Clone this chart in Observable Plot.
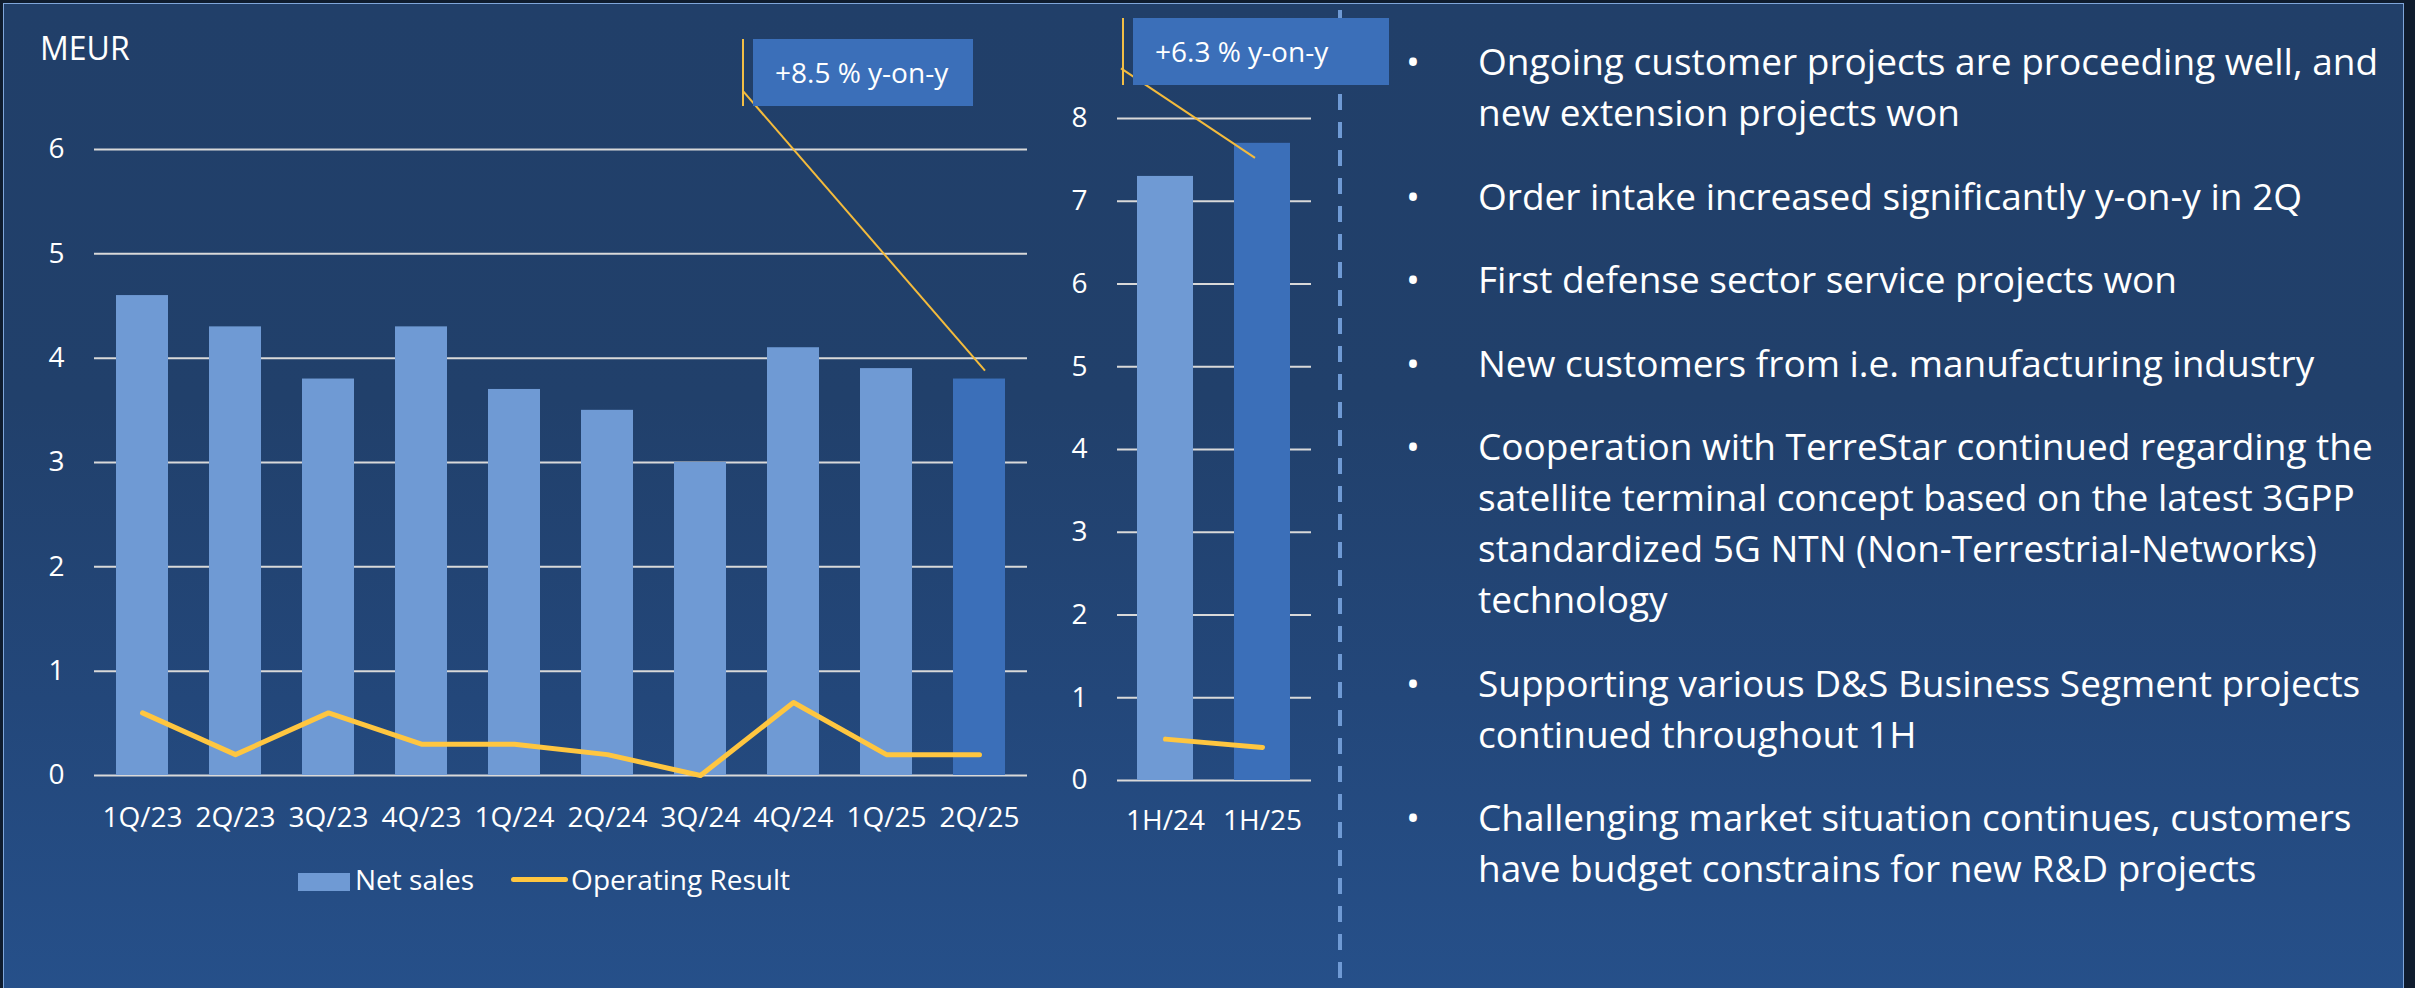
<!DOCTYPE html>
<html><head><meta charset="utf-8">
<script src="https://cdn.jsdelivr.net/npm/d3@7"></script>
<script src="https://cdn.jsdelivr.net/npm/@observablehq/plot@0.6"></script>
<style>
html,body{margin:0;padding:0;width:2415px;height:988px;overflow:hidden;background:#0f1c2e;font-family:"Open Sans",sans-serif;color:#fff;}
#panel{position:absolute;left:3px;top:3px;width:2401px;height:992px;border:1.5px solid #7fa6da;border-bottom:none;box-sizing:border-box;
background:linear-gradient(180deg,#213f69 0%,#21406b 40%,#23477a 70%,#26508a 100%);}
.abs{position:absolute;}
.meur{left:40px;top:26px;font-size:32px;line-height:44px;}
.box{background:#3b6fb9;height:67px;line-height:67px;font-size:28px;padding-left:22px;box-sizing:border-box;white-space:nowrap;}
.vbar{width:2.5px;background:#f2be45;}
.legend{font-size:28px;line-height:40px;white-space:nowrap;}
#bullets{left:1406px;top:35px;font-size:37px;line-height:51px;}
#bullets .p{display:flex;margin-bottom:32.5px;white-space:nowrap;}
#bullets .b{width:72px;flex:none;}
</style></head><body>
<div id="panel"></div>
<div id="root"></div>
<script>
// ---- data ----
const quarters = ["1Q/23","2Q/23","3Q/23","4Q/23","1Q/24","2Q/24","3Q/24","4Q/24","1Q/25","2Q/25"];
const netSales = [4.6,4.3,3.8,4.3,3.7,3.5,3.0,4.1,3.9,3.8];
const operatingResult = [0.6,0.2,0.6,0.3,0.3,0.2,0.0,0.7,0.2,0.2];
const halves = ["1H/24","1H/25"];
const halfNetSales = [7.3,7.7];
const halfOperatingResult = [0.5,0.4];
const leftTicks = [0,1,2,3,4,5,6];
const rightTicks = [0,1,2,3,4,5,6,7,8];
const unitLabel = "MEUR";
const seriesNames = ["Net sales","Operating Result"];
const calloutTexts = ["+8.5 % y-on-y","+6.3 % y-on-y"];
const bulletLines = [
  ["Ongoing customer projects are proceeding well, and","new extension projects won"],
  ["Order intake increased significantly y-on-y in 2Q"],
  ["First defense sector service projects won"],
  ["New customers from i.e. manufacturing industry"],
  ["Cooperation with TerreStar continued regarding the","satellite terminal concept based on the latest 3GPP","standardized 5G NTN (Non-Terrestrial-Networks)","technology"],
  ["Supporting various D&S Business Segment projects","continued throughout 1H"],
  ["Challenging market situation continues, customers","have budget constrains for new R&D projects"]
];

// ---- styles ----
const LIGHT = "#6f9ad4", DARK = "#3b6fb9", GOLD = "#ffc640", GRID = "#d9d9d9";
const root = document.getElementById("root");

const qData = quarters.map((p,i)=>({period:p, sales:netSales[i], result:operatingResult[i], last:i===quarters.length-1}));
const hData = halves.map((p,i)=>({period:p, sales:halfNetSales[i], result:halfOperatingResult[i], last:i===halves.length-1}));

function chart(data, domainX, ticks, opts){
  return Plot.plot({
    width: opts.width, height: opts.height,
    marginLeft: opts.ml, marginRight: opts.mr, marginTop: opts.mt, marginBottom: opts.mb,
    style:{background:"transparent", color:"#fff", fontFamily:"Open Sans, sans-serif", fontSize:"28px", overflow:"visible"},
    x:{domain:domainX, paddingInner:opts.pi, paddingOuter:opts.pi/2, label:null},
    y:{domain:[0, ticks[ticks.length-1]], label:null},
    marks:[
      Plot.gridY(ticks, {stroke:GRID, strokeOpacity:1, strokeWidth:2}),
      Plot.barY(data.filter(d=>!d.last), {x:"period", y:"sales", fill:LIGHT}),
      Plot.barY(data.filter(d=>d.last), {x:"period", y:"sales", fill:DARK}),
      Plot.lineY(data, {x:"period", y:"result", stroke:GOLD, strokeWidth:5, strokeLinejoin:"round", strokeLinecap:"round"}),
      Plot.axisY(ticks, {tickSize:0, tickPadding:opts.ytp, fontSize:28, label:null, tickFormat:d=>String(d)}),
      Plot.axisX({tickSize:0, tickPadding:opts.xtp, fontSize:28, label:null})
    ]
  });
}

const left = chart(qData, quarters, leftTicks, {width:1050,height:850,ml:94,mr:23,mt:149,mb:75,pi:0.44,ytp:30,xtp:32});
left.style.position="absolute"; left.style.left="0px"; left.style.top="0px";
root.appendChild(left);

const RX=1040;
const right = chart(hData, halves, rightTicks, {width:290,height:850,ml:77,mr:19,mt:118,mb:70,pi:0.42,ytp:30,xtp:30});
right.style.position="absolute"; right.style.left=RX+"px"; right.style.top="0px";
root.appendChild(right);

// unit label
const meur = document.createElement("div"); meur.className="abs meur"; meur.textContent=unitLabel; root.appendChild(meur);

// legend
const lg = document.createElement("div"); lg.className="abs legend"; lg.style.left="298px"; lg.style.top="859px";
lg.innerHTML = `<span style="display:inline-block;width:52px;height:18px;background:${LIGHT};vertical-align:-1px;"></span><span style="margin-left:5px">${seriesNames[0]}</span>`+
  `<span style="display:inline-block;width:57px;height:5px;border-radius:3px;background:${GOLD};vertical-align:8px;margin-left:37px"></span><span style="margin-left:3px">${seriesNames[1]}</span>`;
root.appendChild(lg);

// dashed divider
const ov = d3.select(root).append("svg").attr("class","abs").attr("width",2415).attr("height",988).style("left","0px").style("top","0px").style("overflow","visible");
ov.append("line").attr("x1",1340).attr("x2",1340).attr("y1",10).attr("y2",988).attr("stroke",LIGHT).attr("stroke-width",4).attr("stroke-dasharray","16 12");

// callout leaders anchored on bar tops via the plot scales
function barTop(svg, offX, period, value){
  const sx = svg.scale("x"), sy = svg.scale("y");
  return [offX + sx.apply(period) + sx.bandwidth/2, sy.apply(value)];
}
const [lx, ly] = barTop(left, 0, quarters[quarters.length-1], netSales[netSales.length-1]);
const [rx, ry] = barTop(right, RX, halves[halves.length-1], halfNetSales[halfNetSales.length-1]);
ov.append("line").attr("x1",743.5).attr("y1",91.7).attr("x2",lx+6).attr("y2",ly-8).attr("stroke","#f4bb3c").attr("stroke-width",2);
ov.append("line").attr("x1",1121).attr("y1",68.3).attr("x2",rx-7).attr("y2",ry+15).attr("stroke","#f4bb3c").attr("stroke-width",2);

function callout(x, y, w, text){
  const b = document.createElement("div"); b.className="abs box"; b.style.left=x+"px"; b.style.top=y+"px"; b.style.width=w+"px"; b.textContent=text; root.appendChild(b);
  const v = document.createElement("div"); v.className="abs vbar"; v.style.left=(x-11.5)+"px"; v.style.top=y+"px"; v.style.height="67px"; root.appendChild(v);
}
callout(753, 38.5, 220, calloutTexts[0]);
callout(1133, 18, 256, calloutTexts[1]);

// bullets
const bl = document.createElement("div"); bl.id="bullets"; bl.className="abs";
bl.innerHTML = bulletLines.map(lines=>`<div class="p"><span class="b">•</span><span>${lines.map(l=>l.replace(/&/g,"&amp;")).join("<br>")}</span></div>`).join("");
root.appendChild(bl);
</script>
</body></html>
